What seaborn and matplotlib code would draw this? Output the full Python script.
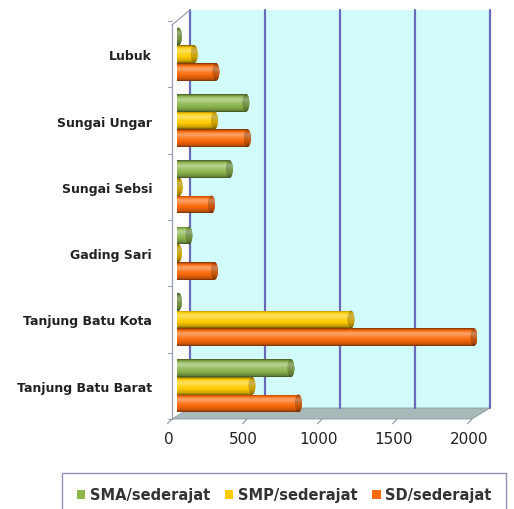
import numpy as np
import pandas as pd
import matplotlib
matplotlib.use("Agg")
import matplotlib.pyplot as plt
import matplotlib.transforms as mtransforms
from matplotlib.patches import Polygon, Ellipse, Rectangle
import seaborn as sns

categories = ["Lubuk", "Sungai Ungar", "Sungai Sebsi", "Gading Sari",
              "Tanjung Batu Kota", "Tanjung Batu Barat"]
series = ["SMA/sederajat", "SMP/sederajat", "SD/sederajat"]
sma = [10, 460, 350, 80, 10, 760]
smp = [115, 250, 15, 10, 1160, 500]
sd = [260, 470, 230, 250, 1980, 810]
xticks = [0, 500, 1000, 1500, 2000]

colors = ["#8db64f", "#ffcc00", "#fa6a0a"]

df = pd.DataFrame({
    "cat": categories * 3,
    "series": sum([[s] * len(categories) for s in series], []),
    "value": sma + smp + sd,
})

sns.set_theme(style="white")
plt.rcParams["font.family"] = ["DejaVu Sans"]

W, H = 514, 510
fig = plt.figure(figsize=(W / 100, H / 100), dpi=100)
ax_l, ax_r, ax_t, ax_b = 177, 477, 22, 420
ax = fig.add_axes([ax_l / W, 1 - ax_b / H, (ax_r - ax_l) / W, (ax_b - ax_t) / H])
ax.set_facecolor("none")

dx = 13 / (ax_r - ax_l)
dy = 11 / (ax_b - ax_t)
lx = -5 / (ax_r - ax_l)

# back wall
ax.add_patch(Polygon([(dx, dy), (1 + dx, dy), (1 + dx, 1 + dy), (dx, 1 + dy)],
                     closed=True, transform=ax.transAxes, facecolor="#d2fcfc",
                     edgecolor="none", zorder=0, clip_on=False))
# floor
ax.add_patch(Polygon([(lx, 0), (1 + lx, 0), (1 + dx, dy), (dx, dy)],
                     closed=True, transform=ax.transAxes, facecolor="#a9b8b8",
                     edgecolor="#8a9a9a", lw=0.6, zorder=0.5, clip_on=False))
# gridlines on back wall
for v in xticks:
    xf = v / 2000 + dx
    ax.plot([xf, xf], [dy, 1 + dy], transform=ax.transAxes, color="#6a6ab8",
            lw=1.6, zorder=0.6, clip_on=False)
# left wall edge
ax.plot([lx, lx], [0, 0.99], transform=ax.transAxes, color="#9aa0b0",
        lw=0.9, zorder=0.7, clip_on=False)
ax.plot([lx, dx], [0.99, 1 + dy], transform=ax.transAxes, color="#9aa0b0",
        lw=0.9, zorder=0.7, clip_on=False)
for i in range(7):
    yf = i / 6
    ax.plot([lx - 0.015, lx], [yf, yf], transform=ax.transAxes, color="#9aa0b0",
            lw=0.8, clip_on=False)
for v in xticks:
    xf = v / 2000 + lx
    ax.plot([xf, xf - 0.015], [0, -0.012], transform=ax.transAxes, color="#8a9a9a",
            lw=0.8, clip_on=False)

sns.barplot(data=df, y="cat", x="value", hue="series", order=categories,
            hue_order=series, palette=colors, saturation=1, orient="h", width=0.8,
            edgecolor="none", linewidth=0, ax=ax, legend=True, zorder=2)

ax.set_xlim(0, 2000)
ax.set_ylim(5.5, -0.5)

# cylinder shading for every bar drawn by seaborn
t = np.linspace(0, 1, 64)
shade = (0.68 + 0.5 * np.exp(-((t - 0.28) / 0.2) ** 2)
         + 0.32 * np.exp(-((t - 0.6) / 0.28) ** 2))
edge = np.minimum(t, 1 - t)
shade = shade - 0.25 * np.exp(-(edge / 0.06) ** 2)
bars = [p for p in ax.patches if isinstance(p, Rectangle) and p.get_zorder() == 2]
for bar in bars:
    x0, y0 = bar.get_x(), bar.get_y()
    w, h = bar.get_width(), bar.get_height()
    base = np.array(bar.get_facecolor()[:3])
    img = np.zeros((len(t), 1, 3))
    for k, s in enumerate(shade):
        if s <= 1:
            img[k, 0] = base * s
        else:
            img[k, 0] = base + (1 - base) * (s - 1) * 1.3
    img = np.clip(img, 0, 1)
    im = ax.imshow(img, extent=(x0, x0 + w, y0 + h, y0), aspect="auto",
                   interpolation="bilinear", zorder=2.1)
    im.set_clip_path(bar)
    cap_img = np.clip(img * 0.8, 0, 1)
    cap = Ellipse((x0 + w, y0 + h / 2), width=45, height=h, facecolor=base * 0.8,
                  edgecolor="none", zorder=2.2)
    ax.add_patch(cap)
    im2 = ax.imshow(cap_img, extent=(x0 + w - 25, x0 + w + 25, y0 + h, y0),
                    aspect="auto", interpolation="bilinear", zorder=2.3)
    im2.set_clip_path(cap)

ax.set_xlim(0, 2000)
ax.set_ylim(5.5, -0.5)
ax.set_aspect("auto")
ax.set_xticks(xticks)
ax.set_xticklabels([str(v) for v in xticks], fontsize=11, color="#222222")
ax.tick_params(axis="x", length=0, pad=9)
ax.tick_params(axis="y", length=0, pad=18)
off = mtransforms.ScaledTranslation(-6 / 72, 0, fig.dpi_scale_trans)
for lab in ax.get_xticklabels():
    lab.set_transform(lab.get_transform() + off)
for lab in ax.get_yticklabels():
    lab.set_fontweight("bold")
    lab.set_fontsize(9)
    lab.set_color("#222222")
ax.set_xlabel("")
ax.set_ylabel("")
for s in ax.spines.values():
    s.set_visible(False)
ax.grid(False)

handles, labels = ax.get_legend_handles_labels()
ax.get_legend().remove()
leg = fig.legend(handles, labels, loc="center", ncol=3,
                 bbox_to_anchor=(284 / W, 1 - 496 / H), frameon=True,
                 handlelength=0.6, handleheight=0.6,
                 handletextpad=0.3, columnspacing=1.0, borderpad=1.0,
                 fancybox=False, prop={"weight": "semibold", "size": 10.5})
leg.get_frame().set_edgecolor("#8070a0")
leg.get_frame().set_linewidth(1.0)
for t_ in leg.get_texts():
    t_.set_color("#333333")

fig.savefig("out.png", dpi=100)
